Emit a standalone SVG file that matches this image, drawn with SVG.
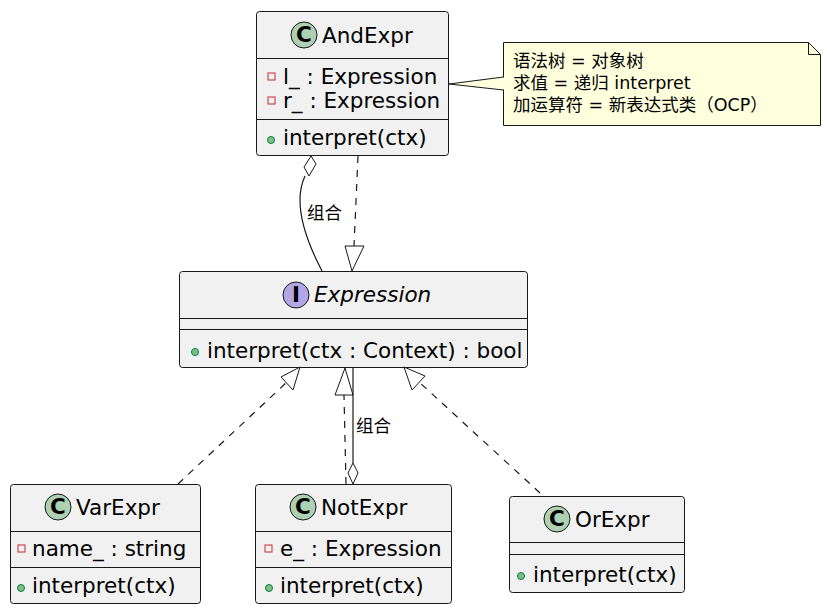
<svg xmlns="http://www.w3.org/2000/svg" width="827" height="612" viewBox="0 0 827 612">
<style>
text{font-family:"DejaVu Sans","Noto Sans CJK SC",sans-serif;font-size:21.5px;fill:#000}
.box{fill:#f1f1f1;stroke:#181818;stroke-width:1}
.sep{stroke:#181818;stroke-width:1}
.cir{fill:#add1b2;stroke:#181818}
.lbl{font-size:17.5px}
.e{fill:none;stroke:#181818;stroke-width:1.2}
.d{stroke-dasharray:7,7}
.priv{fill:none;stroke:#c82930}
.pub{fill:#84be84;stroke:#038048}
.note{font-size:17.5px}
</style>
<g id="AndExpr">
<rect class="box" x="256.5" y="11.5" width="192" height="144" rx="3"/>
<circle class="cir" cx="304" cy="35" r="13"/><text x="304" y="42" text-anchor="middle" font-weight="bold" font-size="18">C</text>
<text x="322" y="43">AndExpr</text>
<line class="sep" x1="256.5" y1="58.5" x2="448.5" y2="58.5"/>
<rect class="priv" x="268" y="73" width="7" height="7"/><text x="283" y="84">l_ : Expression</text>
<rect class="priv" x="268" y="97" width="7" height="7"/><text x="283" y="108">r_ : Expression</text>
<line class="sep" x1="256.5" y1="119.5" x2="448.5" y2="119.5"/>
<circle class="pub" cx="271" cy="140" r="3.5"/><text x="283" y="145">interpret(ctx)</text>
</g>
<g id="note">
<path d="M503.5,42.5 H808.5 L820.5,54.5 V125.5 H503.5 Z" fill="#feffdd" stroke="#181818"/>
<path d="M808.5,42.5 V54.5 H820.5" fill="none" stroke="#181818"/>
<path d="M503.5,77 L449,84 L503.5,90" fill="#feffdd" stroke="#181818"/>
<line x1="503.5" y1="78" x2="503.5" y2="89" stroke="#feffdd" stroke-width="2"/>
<text class="note" x="513" y="67">语法树 = 对象树</text>
<text class="note" x="513" y="89">求值 = 递归 interpret</text>
<text class="note" x="513" y="111">加运算符 = 新表达式类（OCP）</text>
</g>
<g id="Expression">
<rect class="box" x="179.5" y="271.5" width="348" height="96" rx="3"/>
<circle cx="296" cy="295" r="13" style="fill:#b4a7e5;stroke:#181818"/><text x="296" y="302" text-anchor="middle" font-weight="bold" font-size="18">I</text>
<text x="314" y="302" font-style="italic">Expression</text>
<line class="sep" x1="179.5" y1="318.5" x2="527.5" y2="318.5"/>
<line class="sep" x1="179.5" y1="329.5" x2="527.5" y2="329.5"/>
<circle class="pub" cx="195" cy="352" r="3.5"/><text x="207" y="358">interpret(ctx : Context) : bool</text>
</g>
<g id="VarExpr">
<rect class="box" x="10.5" y="484.5" width="190" height="119" rx="3"/>
<circle class="cir" cx="58" cy="507" r="13"/><text x="58" y="514" text-anchor="middle" font-weight="bold" font-size="18">C</text>
<text x="76" y="515">VarExpr</text>
<line class="sep" x1="10.5" y1="531.5" x2="200.5" y2="531.5"/>
<rect class="priv" x="18" y="545" width="7" height="7"/><text x="32" y="556">name_ : string</text>
<line class="sep" x1="10.5" y1="567.5" x2="200.5" y2="567.5"/>
<circle class="pub" cx="21" cy="588" r="3.5"/><text x="32" y="593">interpret(ctx)</text>
</g>
<g id="NotExpr">
<rect class="box" x="255.5" y="484.5" width="196" height="119" rx="3"/>
<circle class="cir" cx="303" cy="507" r="13"/><text x="303" y="514" text-anchor="middle" font-weight="bold" font-size="18">C</text>
<text x="321" y="515">NotExpr</text>
<line class="sep" x1="255.5" y1="531.5" x2="451.5" y2="531.5"/>
<rect class="priv" x="265" y="545" width="7" height="7"/><text x="280" y="556">e_ : Expression</text>
<line class="sep" x1="255.5" y1="567.5" x2="451.5" y2="567.5"/>
<circle class="pub" cx="269" cy="588" r="3.5"/><text x="280" y="593">interpret(ctx)</text>
</g>
<g id="OrExpr">
<rect class="box" x="509.5" y="496.5" width="175" height="96" rx="3"/>
<circle class="cir" cx="557" cy="519" r="13"/><text x="557" y="526" text-anchor="middle" font-weight="bold" font-size="18">C</text>
<text x="575" y="527">OrExpr</text>
<line class="sep" x1="509.5" y1="542.5" x2="684.5" y2="542.5"/>
<line class="sep" x1="509.5" y1="554.5" x2="684.5" y2="554.5"/>
<circle class="pub" cx="521" cy="576" r="3.5"/><text x="533" y="582">interpret(ctx)</text>
</g>
<g id="connectors">
<path class="e" d="M305,176 C296,195 298,225 322,271"/>
<path d="M311,156 L316,164 L309,176 L304,167 Z" fill="#fff" stroke="#181818"/>
<text class="lbl" x="307" y="219">组合</text>
<path class="e d" d="M358,156 L354,246"/>
<path d="M345,246 L364,246 L352,271 Z" fill="#fff" stroke="#181818"/>
<path class="e d" d="M178,484 L287,382"/>
<path d="M281,377 L300,367 L293,390 Z" fill="#fff" stroke="#181818"/>
<path class="e d" d="M346,484 L344,395"/>
<path d="M335,395 L353,395 L345,368 Z" fill="#fff" stroke="#181818"/>
<path class="e" d="M353,367 L353,463"/>
<path d="M353,463 L358,473 L353,484 L348,473 Z" fill="#fff" stroke="#181818"/>
<text class="lbl" x="356" y="432">组合</text>
<path class="e d" d="M540,493 L418,381"/>
<path d="M404,367 L425,376 L412,390 Z" fill="#fff" stroke="#181818"/>
</g>
</svg>
